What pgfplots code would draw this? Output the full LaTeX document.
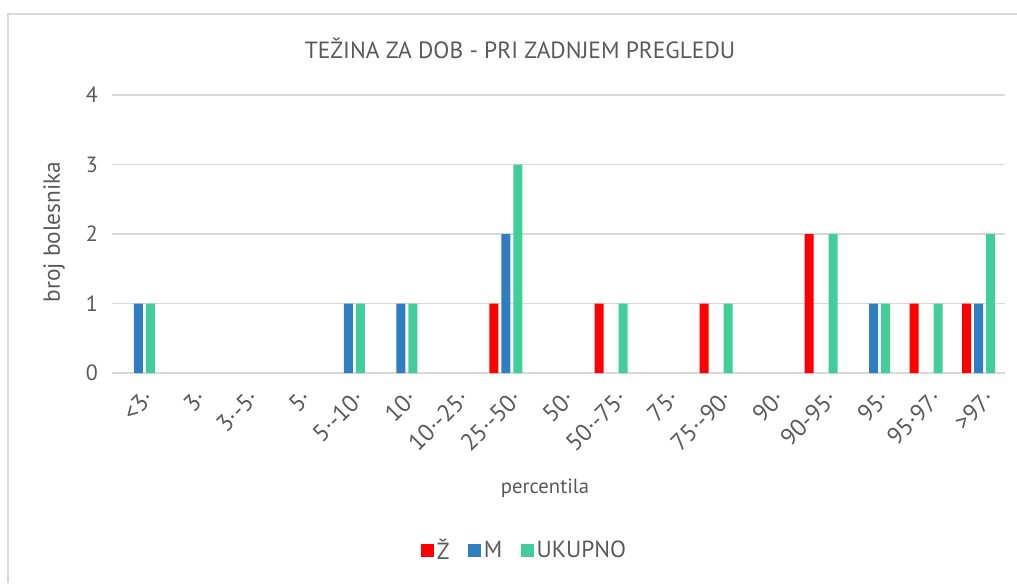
\documentclass[border=0pt]{standalone}
\usepackage{pgfplots}
\pgfplotsset{compat=1.18}
\usepackage{fontspec}
\setmainfont{PT Sans}
\definecolor{zred}{RGB}{255,0,0}
\definecolor{mblue}{RGB}{46,126,193}
\definecolor{ugreen}{RGB}{66,206,155}
\definecolor{txt}{RGB}{89,89,89}
\definecolor{gridc}{RGB}{217,217,217}

\begin{document}
\begin{tikzpicture}
\path[use as bounding box] (0,0) rectangle (762.75pt,437.25pt);
% chart frame (only top and left edges are visible)
\draw[gridc, line width=1.5pt] (6pt,0) -- (6pt,427.1pt) -- (762.75pt,427.1pt);
\begin{axis}[
  at={(84pt,157.5pt)}, anchor=south west,
  scale only axis, width=669.75pt, height=208.5pt,
  ybar, bar width=6.75pt, ybar=2.25pt,
  xmin=-0.5, xmax=16.5, ymin=0, ymax=4,
  xtick={0,...,16},
  xticklabels={<3·,3·,3·-5·,5·,5·-10·,10·,10·-25·,25·-50·,50·,50·-75·,75·,75·-90·,90·,90-95·,95·,95·97·,>97·},
  ytick={0,...,4},
  /pgf/number format/assume math mode=true,
  axis x line*=bottom, axis y line*=left,
  x axis line style={draw=gridc, line width=1.5pt, -},
  y axis line style={draw=none},
  tick style={draw=none},
  ymajorgrids, grid style={draw=gridc, line width=0.9pt},
  tick label style={text=txt},
  yticklabel style={font=\fontsize{16.5}{19}\selectfont, xshift=-7pt},
  xticklabel style={font=\fontsize{18}{21}\selectfont, rotate=45, anchor=north east, xshift=1pt, yshift=-4pt},
  legend style={at={(0.4625,-0.637)}, anchor=center, draw=none, fill=none,
    legend columns=-1, font=\fontsize{17.5}{20}\selectfont, text=txt,
    /tikz/every even column/.append style={column sep=12pt}},
  legend image code/.code={\fill[#1] (0pt,-4.9pt) rectangle (9.75pt,4.9pt);},
]
\addplot[fill=zred, draw=none] coordinates {(7,1) (9,1) (11,1) (13,2) (15,1) (16,1)};
\addplot[fill=mblue, draw=none] coordinates {(0,1) (4,1) (5,1) (7,2) (14,1) (16,1)};
\addplot[fill=ugreen, draw=none] coordinates {(0,1) (4,1) (5,1) (7,3) (9,1) (11,1) (13,2) (14,1) (15,1) (16,2)};
\legend{Ž,M,UKUPNO}
\end{axis}
\node[font=\fontsize{17.6}{20}\selectfont, text=txt] at (390pt,401.25pt) {TEŽINA ZA DOB - PRI ZADNJEM PREGLEDU};
\node[font=\fontsize{15.5}{18}\selectfont, text=txt] at (408.75pt,71.25pt) {percentila};
\node[font=\fontsize{17.5}{20}\selectfont, text=txt, rotate=90] at (40.5pt,263.25pt) {broj bolesnika};
\end{tikzpicture}
\end{document}
